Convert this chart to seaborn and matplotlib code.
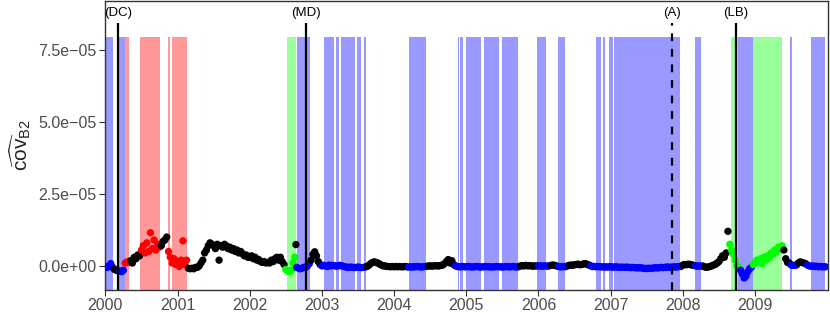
import numpy as np
import pandas as pd
import seaborn as sns
import matplotlib.pyplot as plt

# ---------------------------------------------------------------
# estimated covariance, units of 1e-5, one value every 0.025 year
# ---------------------------------------------------------------
cov_2000 = [-0.03, -0.05, 0.0, 0.08, -0.05, -0.12, -0.15, -0.17, -0.18, -0.2,
            -0.15, 0.1, 0.14, 0.12, 0.18, 0.1, 0.3, 0.25, 0.38, 0.35,
            0.55, 0.7, 0.45, 0.8, 0.5, 1.15, 0.6, 0.9, 0.55, 0.75,
            0.65, 0.7, 0.85, 0.9, 1.0, 0.5, 0.3, 0.1, 0.25, 0.05]
cov_2001 = [0.15, -0.02, 0.2, 0.87, 0.05, 0.2, -0.08, -0.1, -0.08, -0.1,
            -0.05, -0.05, 0.0, 0.1, 0.2, 0.45, 0.55, 0.7, 0.8, 0.75,
            0.7, 0.6, 0.75, 0.2, 0.7, 0.65, 0.75, 0.7, 0.6, 0.65,
            0.55, 0.6, 0.5, 0.55, 0.45, 0.5, 0.42, 0.35, 0.38, 0.3]
cov_2002 = [0.3, 0.35, 0.25, 0.3, 0.2, 0.22, 0.15, 0.12, 0.15, 0.1,
            0.12, 0.1, 0.2, 0.15, 0.25, 0.3, 0.2, 0.3, 0.15, 0.05,
            -0.12, -0.18, -0.2, -0.15, 0.1, 0.3, -0.05, -0.08, -0.1, -0.08,
            -0.05, -0.05, 0.0, 0.08, 0.2, 0.4, 0.49, 0.35, 0.15, 0.05]
cov_2003 = [0.0, 0.02, 0.0, -0.02, 0.03, 0.0, 0.02, 0.01, -0.01, 0.0,
            0.02, 0.0, -0.02, -0.03, -0.05, -0.05, -0.04, -0.05, -0.06, -0.05,
            -0.04, -0.05, -0.06, -0.05, -0.04, -0.02, 0.02, 0.08, 0.12, 0.14,
            0.12, 0.1, 0.06, 0.03, 0.0, 0.0, -0.02, -0.02, -0.03, -0.02]
cov_2004 = [-0.03, -0.02, -0.03, -0.02, -0.03, -0.03, -0.02, -0.03, -0.04, -0.03,
            -0.04, -0.03, -0.03, -0.02, -0.03, -0.04, -0.03, -0.02, -0.02, 0.0,
            0.0, -0.01, 0.0, 0.01, 0.0, 0.0, 0.02, 0.03, 0.08, 0.15,
            0.22, 0.1, 0.18, 0.05, 0.0, -0.02, -0.03, -0.03, -0.02, -0.03]
cov_2005 = [-0.03, -0.02, -0.03, -0.04, -0.03, -0.03, -0.02, -0.03, -0.04, -0.03,
            -0.03, -0.02, -0.03, -0.03, -0.04, -0.03, -0.03, -0.02, -0.03, -0.03,
            -0.04, -0.03, -0.02, -0.03, -0.03, -0.03, -0.02, -0.03, -0.04, -0.03,
            0.0, 0.01, 0.0, 0.02, 0.0, 0.01, 0.0, -0.01, 0.0, 0.0]
cov_2006 = [0.0, 0.0, -0.01, 0.0, 0.0, -0.01, 0.0, 0.02, 0.03, 0.02,
            0.0, -0.02, -0.03, -0.03, -0.02, -0.03, 0.0, 0.02, 0.03, 0.02,
            0.04, 0.05, 0.06, 0.04, 0.05, 0.07, 0.08, 0.05, 0.03, 0.0,
            -0.02, -0.02, -0.03, -0.02, -0.03, -0.03, -0.04, -0.03, -0.04, -0.03]
cov_2007 = [-0.03, -0.04, -0.04, -0.03, -0.04, -0.05, -0.04, -0.05, -0.05, -0.04,
            -0.05, -0.06, -0.05, -0.06, -0.06, -0.07, -0.06, -0.07, -0.08, -0.09,
            -0.09, -0.08, -0.09, -0.08, -0.07, -0.06, -0.07, -0.06, -0.05, -0.06,
            -0.05, -0.04, -0.04, -0.05, -0.04, -0.03, -0.04, -0.03, -0.02, -0.02]
cov_2008 = [0.03, 0.05, 0.04, 0.06, 0.05, 0.03, 0.02, 0.0, -0.01, 0.0,
            -0.01, 0.0, -0.03, -0.05, -0.04, -0.02, 0.0, 0.03, 0.05, 0.1,
            0.15, 0.25, 0.35, 0.3, 0.45, 1.2, 0.75, 0.55, 0.4, 0.2,
            0.0, -0.05, -0.15, -0.28, -0.42, -0.35, -0.2, -0.1, -0.05, 0.05]
cov_2009 = [0.1, 0.2, 0.15, 0.25, 0.08, 0.3, 0.2, 0.35, 0.3, 0.45,
            0.4, 0.55, 0.5, 0.65, 0.6, 0.7, 0.55, 0.25, 0.12, 0.1,
            0.03, 0.02, 0.02, 0.03, 0.1, 0.14, 0.12, 0.1, 0.08, 0.03,
            0.0, -0.01, 0.0, -0.02, -0.01, -0.03, -0.02, -0.03, -0.03, -0.03]

# lone point above the green run in 2002
extra_t = [2002.64]
extra_v = [0.74]

# regime of the points: (start, end, regime), black elsewhere
point_runs = [(2000.00, 2000.10, 'blue'), (2000.19, 2000.27, 'blue'),
              (2000.27, 2000.34, 'red'), (2000.48, 2000.76, 'red'),
              (2000.87, 2001.13, 'red'), (2002.50, 2002.63, 'green'),
              (2002.65, 2002.84, 'blue'), (2002.99, 2003.62, 'blue'),
              (2004.18, 2004.45, 'blue'), (2004.84, 2005.74, 'blue'),
              (2005.98, 2006.16, 'blue'), (2006.26, 2006.40, 'blue'),
              (2006.71, 2007.98, 'blue'), (2008.17, 2008.28, 'blue'),
              (2008.64, 2008.79, 'green'), (2008.79, 2008.96, 'blue'),
              (2008.96, 2009.38, 'green'), (2009.48, 2009.58, 'blue'),
              (2009.72, 2010.00, 'blue')]

# shaded regime bands
bands = [(2000.01, 2000.10, 'blue'), (2000.19, 2000.27, 'blue'),
         (2000.27, 2000.33, 'red'), (2000.48, 2000.76, 'red'),
         (2000.87, 2000.90, 'red'), (2000.92, 2001.13, 'red'),
         (2002.52, 2002.64, 'green'), (2002.65, 2002.84, 'blue'),
         (2003.03, 2003.17, 'blue'), (2003.19, 2003.24, 'blue'),
         (2003.27, 2003.46, 'blue'), (2003.48, 2003.54, 'blue'),
         (2003.59, 2003.61, 'blue'), (2004.20, 2004.44, 'blue'),
         (2004.88, 2004.90, 'blue'), (2004.91, 2004.95, 'blue'),
         (2005.00, 2005.21, 'blue'), (2005.25, 2005.46, 'blue'),
         (2005.50, 2005.71, 'blue'), (2005.98, 2006.10, 'blue'),
         (2006.27, 2006.37, 'blue'), (2006.80, 2006.87, 'blue'),
         (2006.90, 2006.92, 'blue'), (2006.98, 2007.03, 'blue'),
         (2007.05, 2007.96, 'blue'), (2008.17, 2008.25, 'blue'),
         (2008.67, 2008.77, 'green'), (2008.77, 2008.97, 'blue'),
         (2008.97, 2009.38, 'green'), (2009.48, 2009.51, 'blue'),
         (2009.77, 2009.97, 'blue')]

events = ['(DC)', '(MD)', '(A)', '(LB)']
event_t = [2000.17, 2002.78, 2007.85, 2008.73]
event_dashed = [False, False, True, False]

year_ticks = list(range(2000, 2010))
y_ticks = [0.0, 2.5e-5, 5.0e-5, 7.5e-5]
y_ticklabels = ['0.0e+00', '2.5e\u221205', '5.0e\u221205', '7.5e\u221205']

point_pal = {'none': '#000000', 'red': '#FF0000', 'green': '#00FF00', 'blue': '#0000FF'}
band_pal = {'red': '#FF9999', 'green': '#99FF99', 'blue': '#9999FF'}

#----------------------------------------
vals = np.concatenate([cov_2000, cov_2001, cov_2002, cov_2003, cov_2004,
                       cov_2005, cov_2006, cov_2007, cov_2008, cov_2009])
t = 2000 + 0.025 * np.arange(len(vals))
t = np.concatenate([t, extra_t])
vals = np.concatenate([vals, extra_v]) * 1e-5

regime = np.array(['none'] * len(t), dtype=object)
for s, e, r in point_runs:
    regime[(t >= s - 1e-9) & (t <= e + 1e-9)] = r
regime[-1] = 'none'

df = pd.DataFrame({'t': t, 'cov': vals, 'regime': regime})

sns.set_theme(style='white')
plt.rcParams['font.family'] = ['Liberation Sans', 'DejaVu Sans']
plt.rcParams['mathtext.fontset'] = 'custom'
plt.rcParams['mathtext.rm'] = 'Liberation Sans'
plt.rcParams['mathtext.it'] = 'Liberation Sans:italic'

fig = plt.figure(figsize=(8.3, 3.13), dpi=100)
ax = fig.add_axes([0.1265, 0.074, 0.871, 0.922])

ylo, yhi = -0.83e-5, 9.18e-5
band_top = 7.93e-5
line_top = 8.42e-5
label_y = 8.78e-5

for s, e, r in bands:
    ax.fill_between([s, e], ylo, band_top, color=band_pal[r], lw=0, zorder=1)

sns.scatterplot(data=df, x='t', y='cov', hue='regime', palette=point_pal,
                s=28, linewidth=0, legend=False, ax=ax, zorder=3)

for name, x, dashed in zip(events, event_t, event_dashed):
    ax.vlines(x, ylo, line_top, colors='black', lw=1.6, zorder=4,
              linestyles=(0, (3.5, 3.5)) if dashed else 'solid')
    ax.text(x, label_y, name, ha='center', va='center', fontsize=9.5, color='black')

ax.set_xlim(1999.995, 2010.01)
ax.set_ylim(ylo, yhi)
ax.set_xticks(year_ticks)
ax.set_xticklabels([str(y) for y in year_ticks])
ax.set_yticks(y_ticks)
ax.set_yticklabels(y_ticklabels)
ax.tick_params(axis='both', which='both', length=4, width=0.8, color='#333333',
               labelsize=11.5, labelcolor='#4D4D4D', direction='out',
               bottom=True, left=True, pad=2)
ax.set_xlabel('')
ax.set_ylabel(r'$\widehat{\mathrm{cov}}_{\mathrm{B2}}$', fontsize=15, labelpad=4)
for sp in ax.spines.values():
    sp.set_color('#333333')
    sp.set_linewidth(1.0)

fig.savefig('out.png', dpi=100)
